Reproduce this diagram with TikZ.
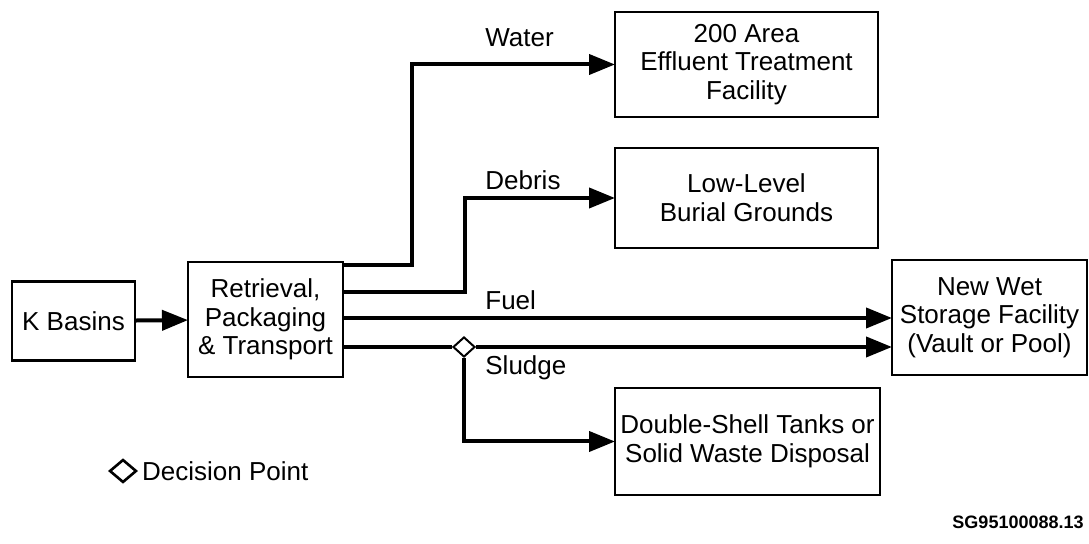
\documentclass[tikz,border=0pt]{standalone}
\usepackage{fontspec}
\setmainfont{Liberation Sans}
\usetikzlibrary{arrows.meta, positioning, shapes.geometric}

\begin{document}
\begin{tikzpicture}[
  x=0.5pt, y=-0.5pt,
  font=\fontsize{13}{14.3}\selectfont,
  box/.style={draw, line width=1.2pt, align=center, inner sep=0pt, outer sep=0pt},
  arrow/.style={line width=2pt, -{Triangle[length=13pt, width=10pt]}},
  decision/.style={diamond, draw, fill=white, line width=1pt, inner sep=0pt, minimum width=11pt, minimum height=10pt},
  tag/.style={anchor=west, inner sep=0pt}
]
\useasboundingbox (0,0) rectangle (1089,544);

\node[box, minimum width=61.5pt, minimum height=39.5pt] (kbasins) at (73.5,321) {K Basins};
\node[box, minimum width=77.5pt, minimum height=57.5pt] (retrieval) at (265.5,319.5) {Retrieval,\\Packaging\\\& Transport};
\node[box, minimum width=131.5pt, minimum height=52.5pt] (effluent) at (746.5,64.5) {200 Area\\Effluent Treatment\\Facility};
\node[box, minimum width=131.5pt, minimum height=50pt] (burial) at (746.5,198) {Low-Level\\Burial Grounds};
\node[box, minimum width=97.5pt, minimum height=57.5pt] (wetstore) at (989.5,317.5) {New Wet\\Storage Facility\\(Vault or Pool)};
\node[box, minimum width=132.5pt, minimum height=53.5pt] (tanks) at (747.5,441.5) {Double-Shell Tanks or\\Solid Waste Disposal};

\coordinate (wbend) at (412,265);
\coordinate (dbend) at (465,292);
\coordinate (fuel) at (465,318);
\node[decision] (sludgedp) at (464,347) {};

\draw[arrow] (kbasins) -- (retrieval);
\draw[arrow] (retrieval.east |- wbend) -- (wbend) |- (effluent.west);
\draw[arrow] (retrieval.east |- dbend) -- (dbend) |- (burial.west);
\draw[arrow] (retrieval.east |- fuel) -- (fuel -| wetstore.west);
\draw[line width=2pt] (retrieval.east |- sludgedp) -- (sludgedp.west);
\draw[arrow] (sludgedp.east) -- (sludgedp -| wetstore.west);
\draw[arrow] (sludgedp.south) |- (tanks.west);

\node[tag] (water) at (485,38) {Water};
\node[tag] (debris) at (485,180) {Debris};
\node[tag] (fuellbl) at (485,300) {Fuel};
\node[tag] (sludgelbl) at (485,368) {Sludge};

% legend
\node[decision, minimum width=13.5pt, minimum height=11.5pt, line width=1.3pt] (legenddp) at (123,471) {};
\node[right=2pt of legenddp, inner sep=0pt] (legend) {Decision Point};

\node[anchor=east, inner sep=0pt, font=\bfseries\fontsize{9}{11}\selectfont] (figno) at (1084,522) {SG95100088.13};
\end{tikzpicture}
\end{document}
